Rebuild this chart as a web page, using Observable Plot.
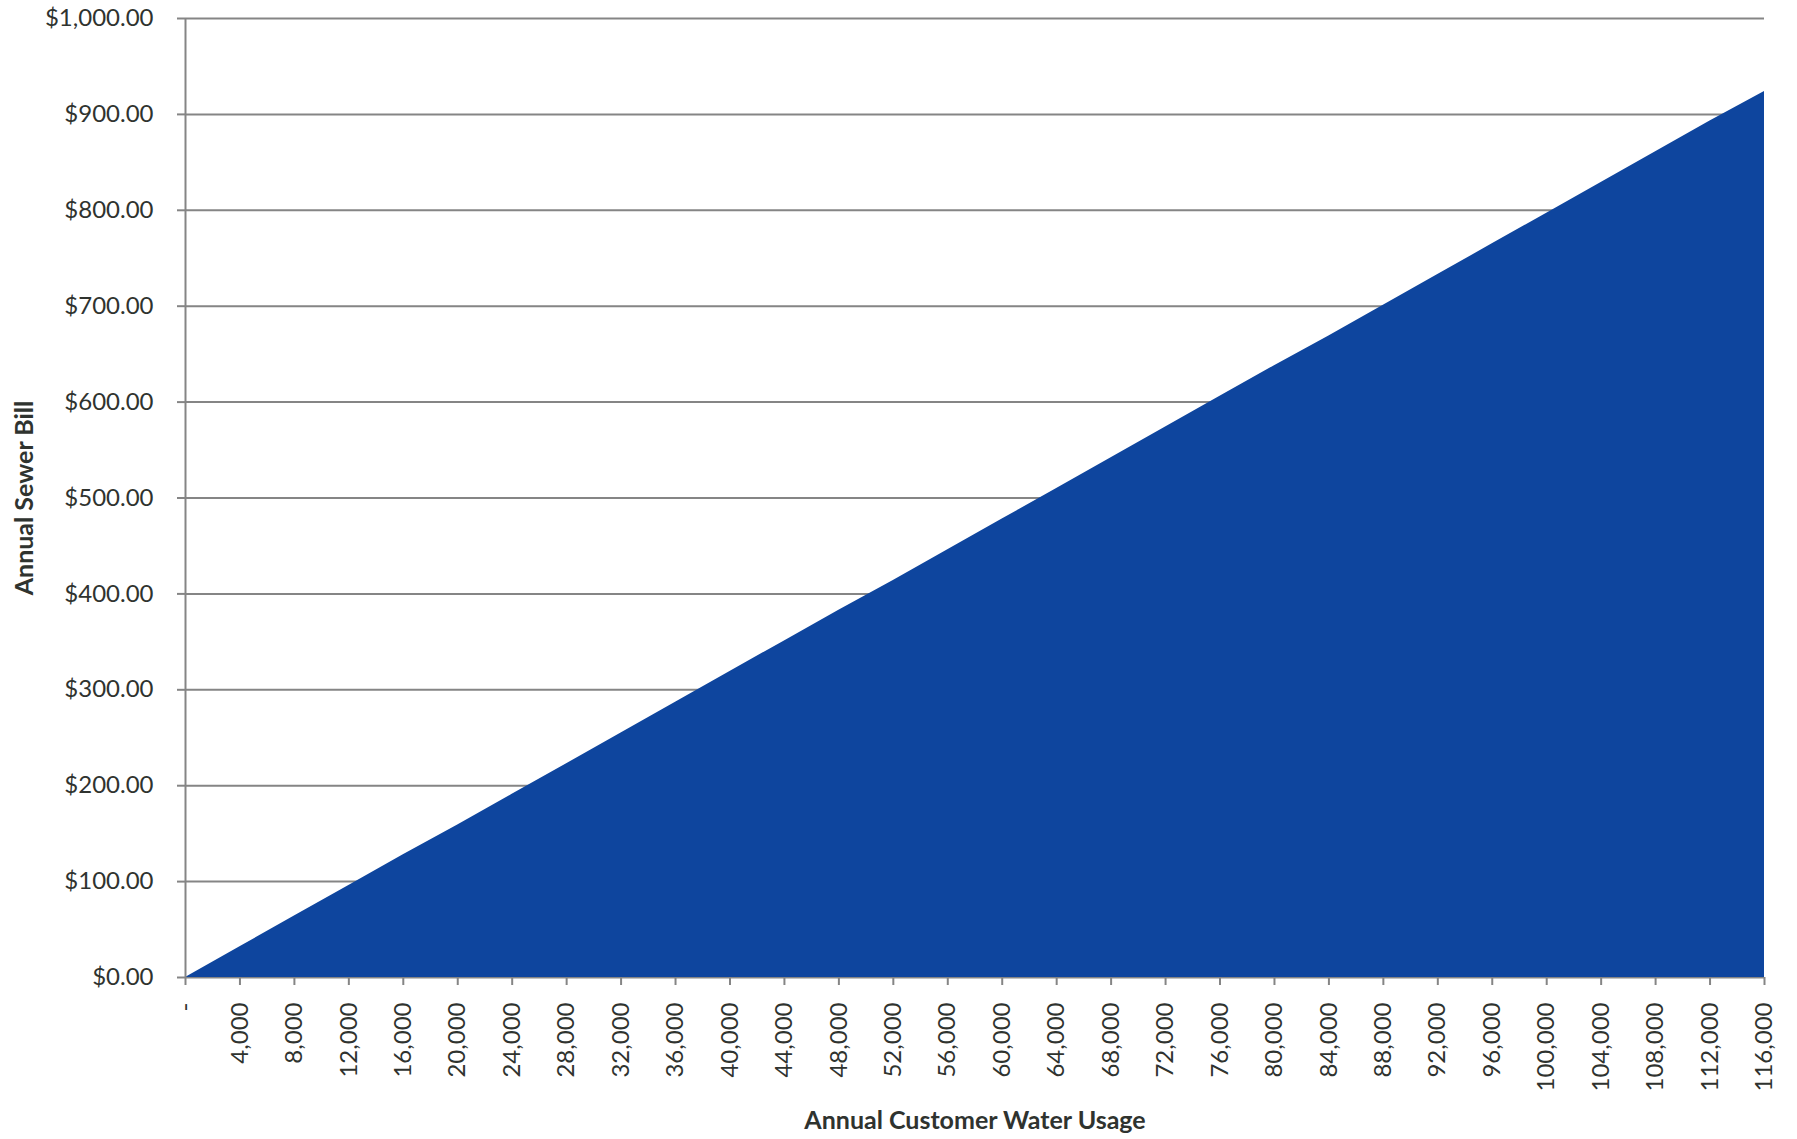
<!DOCTYPE html>
<html>
<head>
<meta charset="utf-8">
<script src="https://cdn.jsdelivr.net/npm/d3@7"></script>
<script src="https://cdn.jsdelivr.net/npm/@observablehq/plot@0.6"></script>
<style>
  html, body { margin: 0; padding: 0; background: #fff; }
  #chart svg { display: block; }
</style>
</head>
<body>
<div id="chart"></div>
<script>
// Annual customer water usage (gallons) — category ticks
const usage = [0, 4000, 8000, 12000, 16000, 20000, 24000, 28000, 32000, 36000,
  40000, 44000, 48000, 52000, 56000, 60000, 64000, 68000, 72000, 76000,
  80000, 84000, 88000, 92000, 96000, 100000, 104000, 108000, 112000, 116000];
// Annual sewer bill ($)
const bill = [0, 32, 64, 96, 128, 159, 191, 223, 255, 287,
  319, 351, 383, 414, 446, 478, 510, 542, 574, 606,
  638, 669, 701, 733, 765, 797, 829, 861, 893, 924];
const yTicks = [0, 100, 200, 300, 400, 500, 600, 700, 800, 900, 1000];

const data = usage.map((u, i) => ({usage: u, bill: bill[i]}));
const money = d3.format("$,.2f");
const comma = d3.format(",");
const gridColor = "#858585";
const textColor = "#2f332f";

const chart = Plot.plot({
  width: 1797,
  height: 1139,
  marginLeft: 185,
  marginRight: 33,
  marginTop: 18,
  marginBottom: 162,
  style: {fontFamily: "Lato, sans-serif", fontSize: "24px", color: textColor, background: "#fff"},
  x: {domain: [0, 116000]},
  y: {domain: [0, 1000]},
  marks: [
    Plot.ruleY(yTicks, {stroke: gridColor, strokeWidth: 2}),
    Plot.areaY(data, {x: "usage", y: "bill", fill: "#0e459e"}),
    Plot.ruleX([0], {stroke: gridColor, strokeWidth: 2}),
    Plot.axisY({
      ticks: yTicks, tickFormat: money, tickSize: 8, tickPadding: 24,
      stroke: gridColor, strokeWidth: 2,
      label: "Annual Sewer Bill", labelAnchor: "center", labelArrow: "none", labelOffset: 170,
      fontSize: 24
    }),
    Plot.axisX({
      ticks: usage, tickFormat: d => d === 0 ? "-" : comma(d), tickSize: 8, tickPadding: 17,
      tickRotate: -90, stroke: gridColor, strokeWidth: 2,
      label: "Annual Customer Water Usage", labelAnchor: "center", labelArrow: "none", labelOffset: 151,
      fontSize: 24
    })
  ]
});

d3.select(chart).selectAll("[aria-label='y-axis label'], [aria-label='x-axis label']")
  .style("font-weight", "bold").style("font-size", "25px");
d3.select(chart).selectAll("[aria-label='y-axis label'] text, [aria-label='x-axis label'] text")
  .style("font-weight", "bold").style("font-size", "25px");

document.getElementById("chart").appendChild(chart);
</script>
</body>
</html>
